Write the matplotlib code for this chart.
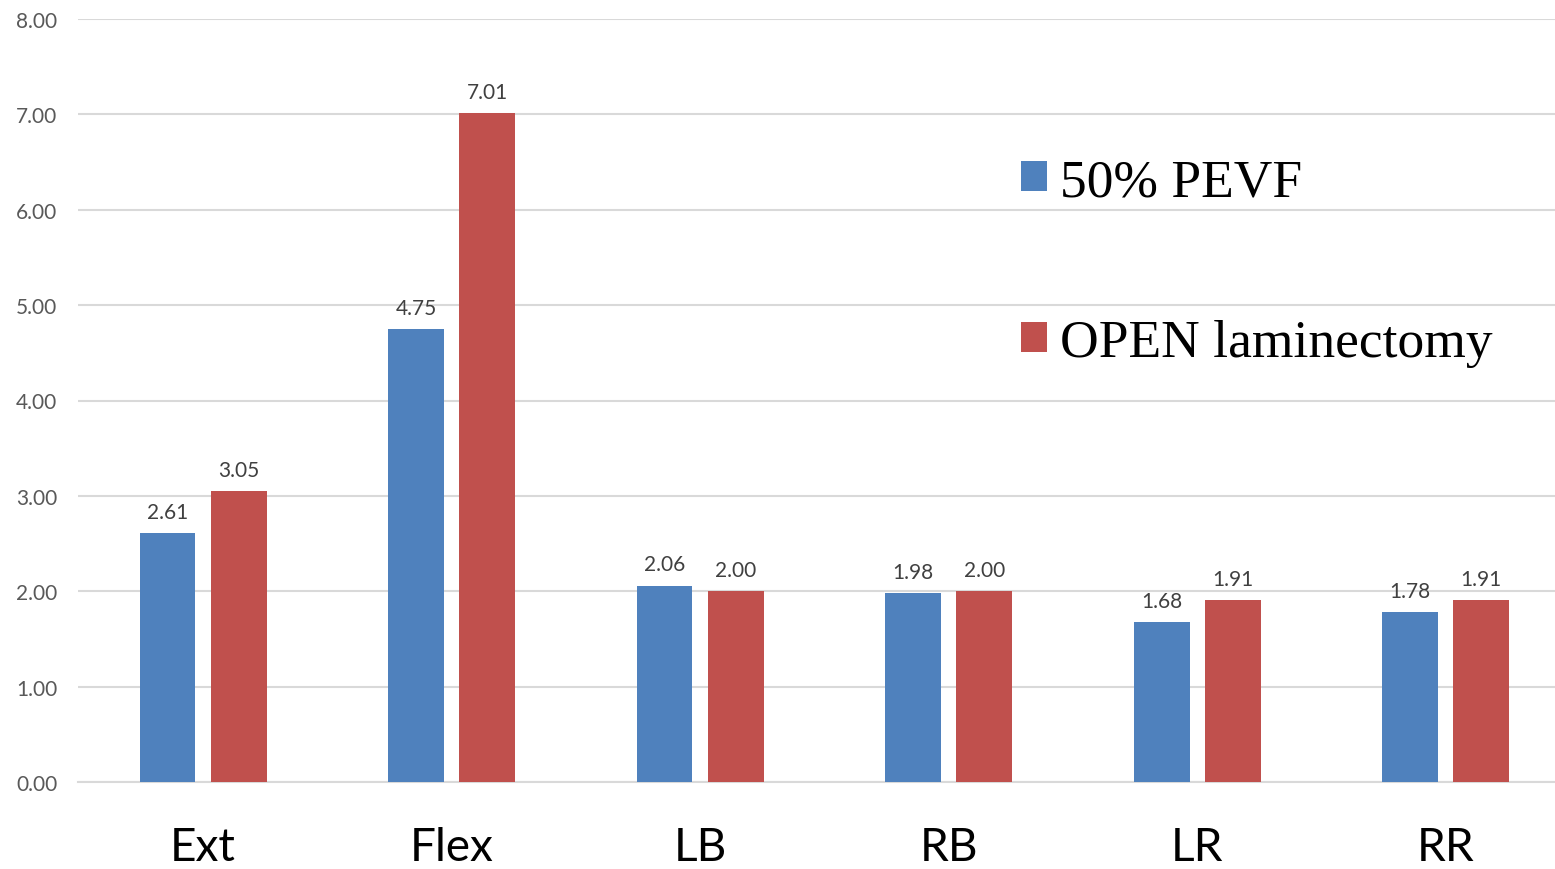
import numpy as np
import matplotlib
import matplotlib.pyplot as plt

# Motion categories and the two groups of values
categories = ["Ext", "Flex", "LB", "RB", "LR", "RR"]
pevf_values = [2.61, 4.75, 2.06, 1.98, 1.68, 1.78]
open_values = [3.05, 7.01, 2.00, 2.00, 1.91, 1.91]
series_names = ["50% PEVF", "OPEN laminectomy"]
y_ticks = [0, 1, 2, 3, 4, 5, 6, 7, 8]

blue = "#4F81BD"
red = "#C0504D"

fig = plt.figure(figsize=(15.55, 8.7), dpi=100)
ax = fig.add_axes([78 / 1555, 87 / 870, 1 - 78 / 1555, 763 / 870])

x = np.arange(len(categories))
width = 0.225
offset = 0.143

b1 = ax.bar(x - offset, pevf_values, width, color=blue, label=series_names[0], zorder=3)
b2 = ax.bar(x + offset, open_values, width, color=red, label=series_names[1], zorder=3)

# Value labels above each bar
for bars, vals in ((b1, pevf_values), (b2, open_values)):
    for rect, v in zip(bars, vals):
        ax.annotate("%.2f" % v, (rect.get_x() + rect.get_width() / 2, v),
                    xytext=(0, 8), textcoords="offset points", ha="center", va="bottom",
                    fontsize=15, color="#404040", family="Lato")

ax.set_xlim(-0.503, 5.44)
ax.set_ylim(0, 8)
ax.set_yticks(y_ticks)
ax.set_yticklabels(["%.2f" % t for t in y_ticks], fontsize=15, color="#595959", family="Lato")
ax.set_xticks(x)
ax.set_xticklabels(categories, fontsize=33, color="black", family="Lato")
ax.tick_params(axis="y", length=0, pad=15)
ax.tick_params(axis="x", length=0, pad=32)

# Light horizontal grid, no frame except the baseline
ax.grid(axis="y", color="#D9D9D9", linewidth=1.5, zorder=0)
for side in ("top", "right", "left"):
    ax.spines[side].set_visible(False)
ax.spines["bottom"].set_color("#D9D9D9")
ax.spines["bottom"].set_linewidth(1.5)

leg = ax.legend(loc="upper left", bbox_to_anchor=(1000 / 1555, 1 - 138 / 870),
                bbox_transform=fig.transFigure, frameon=False,
                prop={"family": "Liberation Serif", "size": 38.5},
                handlelength=0.48, handleheight=0.48, handletextpad=0.25,
                labelspacing=2.1, borderaxespad=0)

fig.savefig("out.png", dpi=100)
